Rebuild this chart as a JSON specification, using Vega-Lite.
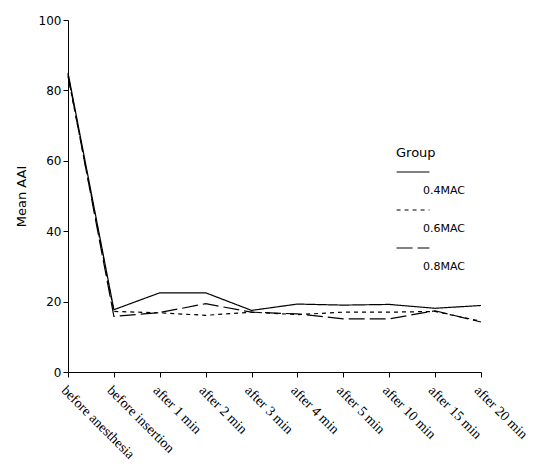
{
  "$schema": "https://vega.github.io/schema/vega-lite/v6.json",
  "autosize": "none",
  "width": 413,
  "height": 352,
  "padding": {"left": 68, "top": 20, "right": 56, "bottom": 92},
  "background": "white",
  "config": {"view": {"stroke": null}},
  "data": {"values": [
    {"time": "before anesthesia", "group": "0.4MAC", "aai": 85},
    {"time": "before insertion", "group": "0.4MAC", "aai": 17.7},
    {"time": "after 1 min", "group": "0.4MAC", "aai": 22.5},
    {"time": "after 2 min", "group": "0.4MAC", "aai": 22.5},
    {"time": "after 3 min", "group": "0.4MAC", "aai": 17.5},
    {"time": "after 4 min", "group": "0.4MAC", "aai": 19.3},
    {"time": "after 5 min", "group": "0.4MAC", "aai": 19.0},
    {"time": "after 10 min", "group": "0.4MAC", "aai": 19.2},
    {"time": "after 15 min", "group": "0.4MAC", "aai": 18.1},
    {"time": "after 20 min", "group": "0.4MAC", "aai": 18.9},
    {"time": "before anesthesia", "group": "0.6MAC", "aai": 84},
    {"time": "before insertion", "group": "0.6MAC", "aai": 17.2},
    {"time": "after 1 min", "group": "0.6MAC", "aai": 16.8},
    {"time": "after 2 min", "group": "0.6MAC", "aai": 16.1},
    {"time": "after 3 min", "group": "0.6MAC", "aai": 17.0},
    {"time": "after 4 min", "group": "0.6MAC", "aai": 16.3},
    {"time": "after 5 min", "group": "0.6MAC", "aai": 17.0},
    {"time": "after 10 min", "group": "0.6MAC", "aai": 17.0},
    {"time": "after 15 min", "group": "0.6MAC", "aai": 17.2},
    {"time": "after 20 min", "group": "0.6MAC", "aai": 14.4},
    {"time": "before anesthesia", "group": "0.8MAC", "aai": 84.5},
    {"time": "before insertion", "group": "0.8MAC", "aai": 15.8},
    {"time": "after 1 min", "group": "0.8MAC", "aai": 16.9},
    {"time": "after 2 min", "group": "0.8MAC", "aai": 19.4},
    {"time": "after 3 min", "group": "0.8MAC", "aai": 17.0},
    {"time": "after 4 min", "group": "0.8MAC", "aai": 16.5},
    {"time": "after 5 min", "group": "0.8MAC", "aai": 15.1},
    {"time": "after 10 min", "group": "0.8MAC", "aai": 15.1},
    {"time": "after 15 min", "group": "0.8MAC", "aai": 17.4},
    {"time": "after 20 min", "group": "0.8MAC", "aai": 14.2}
  ]},
  "mark": {"type": "line", "color": "black", "strokeWidth": 1.2},
  "encoding": {
    "x": {
      "field": "time", "type": "ordinal",
      "sort": ["before anesthesia", "before insertion", "after 1 min", "after 2 min", "after 3 min", "after 4 min", "after 5 min", "after 10 min", "after 15 min", "after 20 min"],
      "scale": {"type": "point", "padding": 0},
      "axis": {
        "title": null, "labelAngle": 45, "labelAlign": "left", "labelBaseline": "top",
        "labelFont": "Liberation Serif", "labelFontSize": 14, "labelColor": "black",
        "domainColor": "black", "tickColor": "black", "tickSize": 5, "labelPadding": 6,
        "labelOverlap": false, "labelBound": false,
        "grid": false
      }
    },
    "y": {
      "field": "aai", "type": "quantitative",
      "scale": {"domain": [0, 100], "nice": false},
      "axis": {
        "title": "Mean AAI", "titleFont": "DejaVu Sans", "titleFontSize": 13, "titleFontWeight": "normal",
        "titleColor": "black", "titlePadding": 10,
        "values": [0, 20, 40, 60, 80, 100], "labelFont": "DejaVu Sans", "labelFontSize": 12,
        "labelColor": "black", "domainColor": "black", "tickColor": "black", "tickSize": 5, "grid": false
      }
    },
    "strokeDash": {
      "field": "group", "type": "nominal",
      "scale": {"domain": ["0.4MAC", "0.6MAC", "0.8MAC"], "range": [[1, 0], [4, 4], [16, 5]]},
      "legend": {
        "title": "Group", "orient": "none", "legendX": 328, "legendY": 127,
        "titleFont": "DejaVu Sans", "titleFontSize": 13, "titleFontWeight": "normal", "titleColor": "black",
        "titlePadding": 3,
        "symbolType": "M-2,0H2", "symbolSize": 270, "symbolStrokeColor": "black", "symbolStrokeWidth": 1.2,
        "symbolFillColor": "transparent", "symbolOffset": 8,
        "labelExpr": "['', datum.label]", "labelBaseline": "top", "labelLineHeight": 25,
        "labelOffset": 1, "labelFont": "DejaVu Sans", "labelFontSize": 11, "labelColor": "black",
        "rowPadding": 5
      }
    }
  }
}
